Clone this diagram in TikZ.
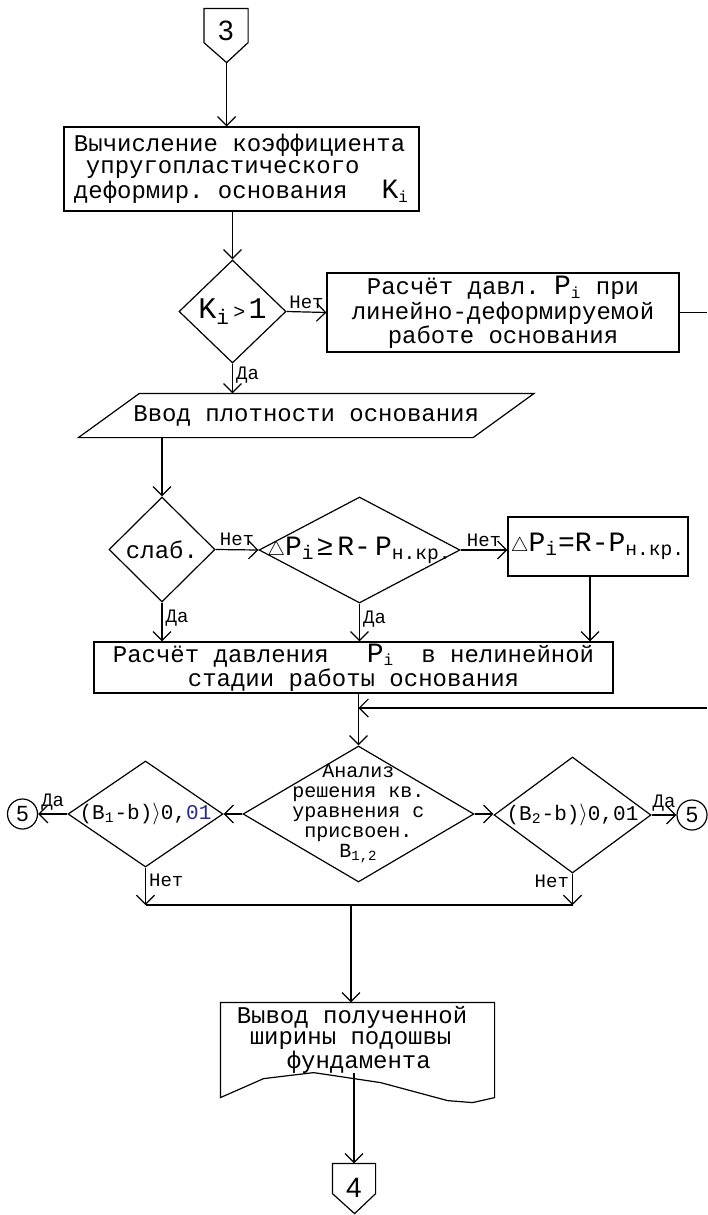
\documentclass[tikz,border=0pt]{standalone}
\usepackage{fontspec}
\setmonofont{Liberation Mono}
\setsansfont{Liberation Sans}
\usetikzlibrary{arrows.meta,shapes,positioning,calc}
\definecolor{numblue}{RGB}{40,40,140}
\newcommand{\vsub}[2]{{\fontsize{14}{14}\selectfont #1}\textsubscript{#2}}
\newcommand{\dlt}{$\scriptstyle\triangle$}

\tikzset{
  txt/.style={font=\ttfamily\fontsize{12}{11}\selectfont},
  blk/.style={draw, rectangle, inner sep=0pt, txt},
  dia/.style={draw, diamond, inner sep=0pt},
  arr/.style={-{Straight Barb[length=4.5pt,width=9pt]}},
  lbl/.style={font=\ttfamily\fontsize{9.5}{9.5}\selectfont, inner sep=1.5pt},
  num/.style={font=\sffamily\fontsize{14}{14}\selectfont, inner sep=0pt},
  frm/.style={font=\ttfamily\fontsize{14}{14}\selectfont, inner sep=0pt},
  cnd/.style={font=\ttfamily\fontsize{10.5}{10.5}\selectfont, inner sep=0pt},
}

\begin{document}
\begin{tikzpicture}[x=0.5pt, y=-0.5pt, line width=0.6pt]
\useasboundingbox (0,0) rectangle (707,1215);

\node[minimum width=21.5pt, minimum height=16.5pt, inner sep=0pt, label={[num, yshift=-2.75pt]center:3}] (c3) at (226,25.5) {};
\draw (c3.south west) -- (c3.north west) -- (c3.north east) -- (c3.south east) -- ++(-21.5,20) coordinate (c3tip) -- cycle;

\node[blk, minimum width=177.5pt, minimum height=42pt, align=left] (kcalc) at (241.5,169) {Вычисление коэффициента\\\hspace*{6pt}упругопластического\\деформир. основания\hspace{17pt}\vsub{K}{i}};
\draw[arr] (c3tip) -- (c3tip |- kcalc.north);

\node[dia, minimum width=53.5pt, minimum height=51.5pt, label={[frm, font=\ttfamily\fontsize{15}{15}\selectfont]center:K\textsubscript{i}{\fontsize{10}{10}\selectfont\,>\,}1}] (kgt) at (232.5,311.5) {};
\draw[arr] (kgt.north |- kcalc.south) -- (kgt.north);

\node[blk, minimum width=176pt, minimum height=39.5pt, align=center] (plin) at (503,312.5) {Расчёт давл. \vsub{P}{i} при\\линейно-деформируемой\\работе основания};
\draw[arr] (kgt.east) -- node[lbl, above] (l1) {Нет} (plin.west);
\coordinate (edge1) at (707,312.5);
\draw (plin.east) -- (edge1);

\node[txt, minimum width=196.75pt, minimum height=21.5pt, inner sep=0pt] (dens) at (306.25,415.5) {Ввод плотности основания};
\draw ([xshift=15.25pt]dens.north west) -- ([xshift=15.25pt]dens.north east) -- ([xshift=-15.25pt]dens.south east) -- ([xshift=-15.25pt]dens.south west) -- cycle;
\draw[arr] (kgt.south) -- node[lbl, right, pos=0.4] (l2) {Да} (kgt.south |- dens.north);

\node[dia, minimum width=53pt, minimum height=52.5pt, label={[txt]center:слаб.}] (weak) at (162,549.5) {};
\draw[arr] (weak.north |- dens.south) -- (weak.north);

\node[dia, minimum width=100.5pt, minimum height=53pt, label={[frm]center:\dlt P\textsubscript{i}\hspace{1pt}≥\hspace{2pt}R-\hspace{2pt}P\textsubscript{н.кр.}}] (dpchk) at (359.5,550) {};
\node[blk, minimum width=90pt, minimum height=29.5pt, font=\ttfamily\fontsize{14}{14}\selectfont] (dpset) at (598,546.5) {\dlt P\textsubscript{i}=R-P\textsubscript{н.кр.}};
\draw[arr] (weak.east) -- node[lbl, above] (l3) {Нет} (dpchk.west);
\draw[arr] (dpchk.east) -- node[lbl, above] (l4) {Нет} (dpchk.east -| dpset.west);

\node[blk, minimum width=259.5pt, minimum height=25.5pt, align=center] (pnl) at (353.5,667.5) {Расчёт давления\hspace{19pt}\vsub{P}{i}\hspace{13.5pt}в нелинейной\\стадии работы основания};
\draw[arr] (weak.south) -- node[lbl, right, pos=0.4] (l5) {Да} (weak.south |- pnl.north);
\draw[arr] (dpchk.south) -- node[lbl, right, pos=0.4] (l6) {Да} (dpchk.south |- pnl.north);
\draw[arr] ([xshift=-4pt]dpset.south) -- ([xshift=-4pt]dpset.south |- pnl.north);

\node[dia, minimum width=115.5pt, minimum height=68pt, label={[align=center, font=\ttfamily\fontsize{10}{10}\selectfont]center:Анализ\\решения кв.\\уравнения с\\присвоен.\\B\textsubscript{1,2}}] (quad) at (358.5,814) {};
\coordinate (edge2) at (707,708);
\draw[arr] (pnl.south -| quad.north) -- (quad.north);
\draw[arr] (edge2) -- (edge2 -| quad.north);

\node[dia, minimum width=77.5pt, minimum height=53pt, label={[cnd]center:(B\textsubscript{1}-b)$\rangle$0,\textcolor{numblue}{01}}] (b1chk) at (145.5,814) {};
\node[dia, minimum width=78.5pt, minimum height=58pt, label={[cnd]center:(B\textsubscript{2}-b)$\rangle$0,01}] (b2chk) at (572.5,815) {};
\node[circle, draw, minimum size=15pt, inner sep=0pt, font=\sffamily\fontsize{11}{11}\selectfont] (c5l) at (22.5,814) {5};
\node[circle, draw, minimum size=15pt, inner sep=0pt, font=\sffamily\fontsize{11}{11}\selectfont] (c5r) at (692,815) {5};
\draw[arr] (quad.west) -- (b1chk.east);
\draw[arr] (quad.east) -- (quad.east -| b2chk.west);
\draw[arr] (b1chk.west) -- node[lbl, above] (l7) {Да} (c5l.east);
\draw[arr] (b2chk.east) -- node[lbl, above] (l8) {Да} (c5r.west);

\coordinate (jn) at (351,905);
\draw[arr] (b1chk.south) -- node[lbl, right, pos=0.35] (l9) {Нет} (b1chk.south |- jn);
\draw[arr] (b2chk.south) -- node[lbl, left, pos=0.25] (l10) {Нет} (b2chk.south |- jn);
\draw (b1chk.south |- jn) -- (b2chk.south |- jn);

\node[minimum width=136.5pt, minimum height=47pt, inner sep=0pt, label={[align=left, font=\ttfamily\fontsize{12}{10.5}\selectfont, xshift=-2.75pt, yshift=5pt]center:Вывод полученной\\\hspace*{6.5pt}ширины подошвы\\\hspace*{25pt}фундамента}] (res) at (357.5,1050) {};
\draw (res.south west) -- (res.north west) -- (res.north east) -- (res.south east) -- ++(-22,5) -- ++(-25,-2) -- ++(-67,-18) -- ++(-67,-10) -- ++(-50,6) -- cycle;
\draw[arr] (jn) -- (jn |- res.north);

\node[minimum width=21pt, minimum height=14.5pt, inner sep=0pt, label={[num, yshift=-4.75pt]center:4}] (c4) at (354,1178.5) {};
\draw (c4.south west) -- (c4.north west) -- (c4.north east) -- (c4.south east) -- ++(-21,20) -- cycle;
\coordinate (resout) at (354,1073);
\draw[arr] (resout) -- (c4.north);

\end{tikzpicture}
\end{document}
